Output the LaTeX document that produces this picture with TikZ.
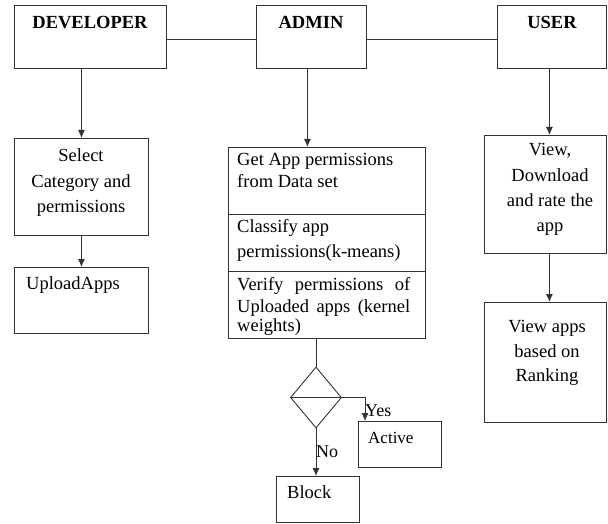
\documentclass[tikz,border=0pt]{standalone}
\usepackage{fontspec}
\setmainfont{Liberation Serif}
\usetikzlibrary{arrows.meta,calc,shapes.geometric}
\definecolor{linec}{HTML}{333333}
\begin{document}
\begin{tikzpicture}[x=1pt,y=-1pt,
  box/.style={draw=linec, line width=0.9pt, inner sep=0pt, anchor=north west},
  txt/.style={inner sep=0pt, font=\fontsize{18.5}{25}\selectfont, text=black},
  atxt/.style={inner sep=0pt, font=\fontsize{18.5}{24}\selectfont, text=black, anchor=base west},
  hd/.style={inner sep=0pt, font=\fontsize{18.5}{25}\selectfont\bfseries, text=black, anchor=base},
  conn/.style={draw=linec, line width=0.9pt},
  arr/.style={conn, -{Latex[length=8pt,width=7pt]}}]
\useasboundingbox (0,0) rectangle (608,524);

% top boxes
\node[box, minimum width=152pt, minimum height=63pt] (dev) at (14,5) {};
\node[box, minimum width=110pt, minimum height=63pt] (admin) at (256,5) {};
\node[box, minimum width=109pt, minimum height=63pt] (user) at (497,5) {};
\node[hd] (devt) at (90,29) {DEVELOPER};
\node[hd] (admint) at (311,29) {ADMIN};
\node[hd] (usert) at (552,29) {USER};

% developer column
\node[box, minimum width=134pt, minimum height=97pt] (select) at (14,138) {};
\node[txt, anchor=base] (sel1) at (81,162) {Select};
\node[txt, anchor=base] (sel2) at (81,187) {Category and};
\node[txt, anchor=base] (sel3) at (81,212) {permissions};
\node[box, minimum width=134pt, minimum height=66pt] (upload) at (14,267) {};
\node[txt, anchor=base west] (upt) at (26,289) {UploadApps};

% admin column
\node[box, minimum width=197pt, minimum height=67pt] (getapp) at (228,147) {};
\node[box, minimum width=197pt, minimum height=57pt] (classify) at (228,214) {};
\node[box, minimum width=197pt, minimum height=67pt] (verify) at (228,271) {};
\node[atxt] (ga1) at (237,165) {Get App permissions};
\node[atxt] (ga2) at (237,188) {from Data set};
\node[atxt] (cl1) at (237,233) {Classify app};
\node[atxt] (cl2) at (237,257) {permissions(k-means)};
\node[atxt] (ve1) at (237,290) {\makebox[173pt][s]{Verify permissions of}};
\node[atxt] (ve2) at (237,312) {\makebox[173pt][s]{Uploaded apps (kernel}};
\node[atxt] (ve3) at (237,331) {weights)};

\node[draw=linec, line width=0.9pt, shape=diamond, inner sep=0pt,
      minimum width=51pt, minimum height=61pt] (dec) at (316,397.5) {};
\node[box, minimum width=83pt, minimum height=46pt] (active) at (358,421) {};
\node[box, minimum width=83pt, minimum height=46pt] (block) at (276,476) {};
\node[txt, font=\fontsize{17}{22}\selectfont, anchor=base west] (actt) at (368,443) {Active};
\node[txt, anchor=base west] (blkt) at (287,498) {Block};
\node[txt, font=\fontsize{18}{22}\selectfont, anchor=base west] (yes) at (365,416) {Yes};
\node[txt, font=\fontsize{18}{22}\selectfont, anchor=base west] (no) at (316,457) {No};

% user column
\node[box, minimum width=122pt, minimum height=118pt] (view) at (484,135) {};
\node[txt, anchor=base] (vw1) at (550,156) {View,};
\node[txt, anchor=base] (vw2) at (550,182) {Download};
\node[txt, anchor=base] (vw3) at (550,207) {and rate the};
\node[txt, anchor=base] (vw4) at (550,231) {app};
\node[box, minimum width=122pt, minimum height=120pt] (rank) at (484,302) {};
\node[txt, anchor=base] (rk1) at (547,332) {View apps};
\node[txt, anchor=base] (rk2) at (547,357) {based on};
\node[txt, anchor=base] (rk3) at (547,381) {Ranking};

% connectors
\draw[conn] ([yshift=-3pt]dev.east) -- ([yshift=-3pt]admin.west);
\draw[conn] ([yshift=-3pt]admin.east) -- ([yshift=-3pt]user.west);
\draw[arr] (dev.south -| select.north) -- (select.north);
\draw[arr] (select.south) -- (upload.north);
\draw[arr] ([xshift=-4pt]admin.south) -- ([xshift=-4pt]admin.south |- getapp.north);
\draw[arr] ([xshift=-2.5pt]user.south) -- ([xshift=-2.5pt]user.south |- view.north);
\draw[arr] ([xshift=-2.5pt]user.south |- view.south) -- ([xshift=-2.5pt]user.south |- rank.north);
\draw[conn] (dec.north |- verify.south) -- (dec.north);
\draw[conn] (dec.west) -- (dec.east);
\draw[arr] (dec.east) -| ([xshift=7pt]active.north west);
\draw[arr] (dec.south) -- (dec.south |- block.north);
\end{tikzpicture}
\end{document}
